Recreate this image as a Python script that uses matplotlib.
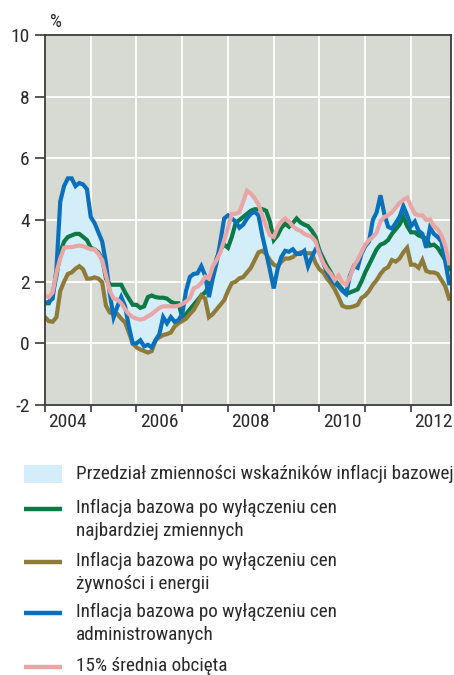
import numpy as np
import matplotlib
matplotlib.use("Agg")
import matplotlib.pyplot as plt
from matplotlib import font_manager
from matplotlib.patches import Rectangle

# Monthly core inflation measures, y/y %, from January 2004
start_year = 2004

excl_most_volatile = [
    1.30, 1.30, 1.60, 2.20, 2.95, 3.30, 3.45, 3.50, 3.55, 3.55, 3.45, 3.35,
    3.10, 3.05, 2.95, 2.75, 2.10, 1.90, 1.90, 1.90, 1.90, 1.65, 1.45, 1.25,
    1.25, 1.15, 1.20, 1.50, 1.55, 1.50, 1.48, 1.48, 1.45, 1.35, 1.30, 1.30,
    0.85, 0.95, 1.10, 1.25, 1.40, 1.55, 1.65, 1.85, 2.25, 2.75, 3.05, 3.20,
    3.10, 3.45, 3.90, 4.00, 4.10, 4.20, 4.30, 4.35, 4.35, 4.35, 4.30, 3.95,
    3.35, 3.50, 3.75, 3.88, 3.78, 3.90, 4.05, 3.92, 3.85, 3.80, 3.65, 3.45,
    3.00, 2.75, 2.50, 2.30, 2.05, 1.90, 1.75, 1.60, 1.65, 1.70, 1.75, 2.00,
    2.30, 2.55, 2.80, 3.05, 3.20, 3.25, 3.35, 3.55, 3.70, 3.85, 4.10, 3.80,
    3.60, 3.60, 3.50, 3.45, 3.40, 3.17, 3.20, 3.10, 2.90, 2.70, 2.40,
]

excl_food_energy = [
    0.85, 0.72, 0.70, 0.85, 1.70, 2.00, 2.25, 2.30, 2.42, 2.50, 2.40, 2.10,
    2.10, 2.14, 2.10, 1.98, 1.22, 1.00, 0.95, 0.95, 0.80, 0.68, 0.35, 0.00,
    -0.13, -0.20, -0.25, -0.30, -0.25, 0.10, 0.20, 0.27, 0.30, 0.35, 0.55, 0.65,
    0.72, 0.80, 0.95, 1.08, 1.30, 1.55, 1.45, 0.85, 0.95, 1.10, 1.25, 1.40,
    1.70, 1.95, 2.00, 2.11, 2.15, 2.30, 2.45, 2.70, 2.95, 3.00, 2.90, 2.70,
    2.55, 2.50, 2.65, 2.75, 2.75, 2.80, 2.90, 2.95, 2.95, 2.92, 2.92, 2.60,
    2.40, 2.30, 2.10, 1.95, 1.75, 1.50, 1.22, 1.17, 1.17, 1.20, 1.25, 1.47,
    1.55, 1.70, 1.90, 2.05, 2.25, 2.40, 2.47, 2.70, 2.65, 2.75, 2.95, 3.10,
    2.55, 2.55, 2.45, 2.70, 2.35, 2.30, 2.30, 2.25, 2.05, 1.85, 1.45,
]

excl_administered = [
    1.30, 1.35, 1.45, 2.40, 4.60, 5.10, 5.35, 5.35, 5.10, 5.20, 5.15, 5.00,
    4.10, 3.90, 3.60, 3.30, 2.60, 1.60, 0.85, 1.20, 1.50, 1.20, 0.55, 0.00,
    0.00, 0.10, -0.10, -0.05, -0.13, 0.10, 0.30, 0.85, 0.65, 0.85, 0.70, 0.75,
    0.95, 1.70, 2.15, 2.25, 2.27, 2.50, 2.20, 1.50, 2.10, 2.60, 3.30, 4.05,
    4.15, 4.05, 3.95, 3.75, 3.85, 4.05, 4.20, 4.27, 4.15, 3.50, 2.95, 2.38,
    1.78, 2.40, 2.80, 3.00, 2.97, 3.05, 2.90, 2.90, 3.00, 2.50, 2.80, 3.05,
    3.00, 2.60, 2.30, 2.10, 1.95, 1.85, 1.70, 1.60, 2.20, 2.50, 2.45, 2.90,
    3.15, 3.30, 4.00, 4.25, 4.80, 4.20, 3.78, 3.72, 3.90, 4.10, 4.45, 4.15,
    3.80, 3.95, 3.65, 3.55, 3.10, 3.75, 3.55, 3.45, 3.30, 2.65, 1.95,
]

trimmed_mean_15 = [
    1.55, 1.50, 1.65, 2.30, 2.75, 3.10, 3.12, 3.12, 3.15, 3.17, 3.15, 3.10,
    3.05, 3.05, 2.90, 2.70, 2.20, 1.70, 1.45, 1.42, 1.30, 1.10, 0.95, 0.85,
    0.80, 0.77, 0.80, 0.88, 0.95, 1.05, 1.15, 1.20, 1.20, 1.20, 1.20, 1.22,
    1.28, 1.35, 1.47, 1.78, 1.84, 1.95, 2.16, 2.10, 2.49, 2.70, 2.95, 3.35,
    3.75, 4.20, 4.20, 4.25, 4.60, 4.95, 4.85, 4.70, 4.50, 4.15, 3.80, 3.50,
    3.45, 3.75, 3.95, 4.05, 3.95, 3.80, 3.70, 3.65, 3.55, 3.50, 3.45, 3.30,
    2.90, 2.60, 2.40, 2.25, 2.05, 2.20, 1.98, 1.90, 2.15, 2.50, 2.70, 2.95,
    3.20, 3.35, 3.45, 3.60, 3.95, 4.10, 4.15, 4.25, 4.40, 4.55, 4.65, 4.72,
    4.45, 4.20, 4.15, 4.15, 4.00, 4.02, 3.80, 3.70, 3.50, 3.15, 2.60,
]

year_labels = ["2004", "2006", "2008", "2010", "2012"]
y_ticks = [-2, 0, 2, 4, 6, 8, 10]

label_band = "Przedział zmienności wskaźników inflacji bazowej"
label_green = "Inflacja bazowa po wyłączeniu cen\nnajbardziej zmiennych"
label_brown = "Inflacja bazowa po wyłączeniu cen\nżywności i energii"
label_blue = "Inflacja bazowa po wyłączeniu cen\nadministrowanych"
label_pink = "15% średnia obcięta"

# ---------------------------------------------------------------- styling
available = {f.name for f in font_manager.fontManager.ttflist}
family = next(
    (f for f in ["Liberation Sans Narrow", "Roboto Condensed",
                 "DejaVu Sans Condensed", "Roboto", "DejaVu Sans"]
     if f in available),
    "DejaVu Sans",
)
plt.rcParams["font.family"] = [family, "DejaVu Sans"]

c_green = "#0b7a44"
c_brown = "#8f7b38"
c_blue = "#0b70bb"
c_pink = "#e9a6a4"
c_band = "#d3edf9"
c_bg = "#d6dad3"
c_axis = "#3a3a3a"
c_text = "#2a2a2a"
lw = 3.0

W, H = 454, 675
fig = plt.figure(figsize=(W / 100, H / 100), dpi=100)
ax = fig.add_axes([45 / W, 1 - 405 / H, (451 - 45) / W, (405 - 35) / H])
ax.set_facecolor(c_bg)

n = len(excl_administered)
t = start_year + np.arange(n) / 12.0

series = np.vstack([excl_most_volatile, excl_food_energy,
                    excl_administered, trimmed_mean_15])
ax.fill_between(t, series.min(axis=0), series.max(axis=0),
                color=c_band, lw=0, zorder=2)
ax.plot(t, excl_most_volatile, color=c_green, lw=lw, zorder=3,
        solid_joinstyle="miter")
ax.plot(t, excl_food_energy, color=c_brown, lw=lw, zorder=3,
        solid_joinstyle="miter")
ax.plot(t, excl_administered, color=c_blue, lw=lw, zorder=4,
        solid_joinstyle="miter")
ax.plot(t, trimmed_mean_15, color=c_pink, lw=lw, zorder=5,
        solid_joinstyle="miter")

ax.set_xlim(start_year, start_year + (n - 0.5) / 12.0)
ax.set_ylim(-2, 10)

# year boundaries: ticks and grid; labels centred inside every second year
ax.set_xticks(np.arange(start_year, start_year + 9))
ax.set_xticklabels([])
ax.set_xticks([int(y) + 0.5 for y in year_labels], minor=True)
ax.set_xticklabels(year_labels, minor=True)
ax.tick_params(axis="x", which="major", direction="out", length=5,
               width=1.2, color=c_axis)
ax.tick_params(axis="x", which="minor", length=0, pad=6,
               labelsize=14, labelcolor=c_text)

ax.set_yticks(y_ticks)
ax.set_yticklabels([str(v) for v in y_ticks])
ax.tick_params(axis="y", direction="out", length=7, width=1.2,
               color=c_axis, labelsize=14, labelcolor=c_text, pad=4)

ax.grid(True, which="major", color="white", lw=1.3, zorder=1)
ax.set_axisbelow(True)
for side in ["left", "bottom", "top", "right"]:
    ax.spines[side].set_color(c_axis)
    ax.spines[side].set_linewidth(1.3)
    ax.spines[side].set_zorder(6)

fig.text(56 / W, 1 - 22 / H, "%", ha="center", va="center",
         fontsize=13.5, color=c_text)

# ---------------------------------------------------------------- legend
lax = fig.add_axes([0, 0, 1, 1])
lax.set_xlim(0, W)
lax.set_ylim(H, 0)
lax.axis("off")

lax.add_patch(Rectangle((24, 465), 38, 18, color=c_band, lw=0))
lax.text(76, 474, label_band, va="center", ha="left",
         fontsize=13.8, color=c_text)

entries = [
    (509, c_green, label_green),
    (562, c_brown, label_brown),
    (613, c_blue, label_blue),
    (667, c_pink, label_pink),
]
for yc, col, lab in entries:
    lax.plot([24, 62], [yc, yc], color=col, lw=3.2, solid_capstyle="butt")
    lax.text(76, yc - 10, lab, va="top", ha="left", fontsize=13.8,
             color=c_text, linespacing=1.36)

fig.savefig("out.png", dpi=100)
